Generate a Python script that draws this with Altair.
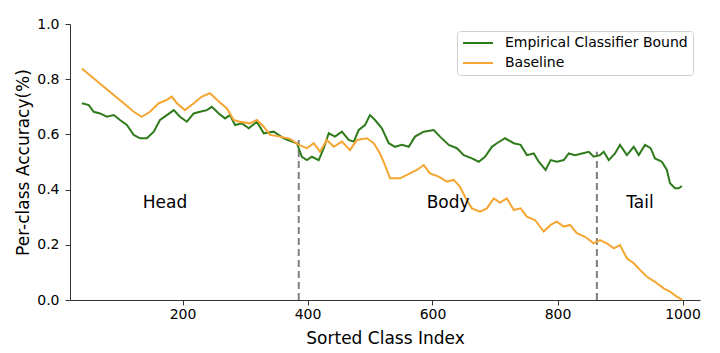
import altair as alt
import pandas as pd

# Empirical Classifier Bound (green)
green_x = [39, 50, 58, 68, 79, 90, 100, 111, 122, 132, 143, 154, 164, 175, 186, 196, 207, 218, 228, 239,
           247, 258, 268, 276, 284, 295, 306, 319, 330, 346, 362, 375, 383, 391, 399, 407, 418, 426, 434, 444,
           455, 466, 474, 482, 492, 500, 508, 519, 530, 540, 551, 562, 572, 586, 602, 612, 626, 639, 650, 663,
           674, 684, 695, 703, 716, 730, 741, 751, 762, 770, 781, 789, 799, 810, 818, 828, 839, 850, 858, 868,
           874, 882, 892, 900, 911, 922, 930, 940, 949, 956, 967, 975, 980, 988, 994, 999]
green_y = [0.713, 0.706, 0.682, 0.676, 0.664, 0.670, 0.652, 0.634, 0.598, 0.586, 0.586, 0.610, 0.652, 0.670,
           0.688, 0.664, 0.646, 0.676, 0.682, 0.688, 0.700, 0.676, 0.658, 0.670, 0.634, 0.640, 0.622, 0.646,
           0.604, 0.610, 0.586, 0.574, 0.568, 0.519, 0.507, 0.519, 0.507, 0.550, 0.604, 0.592, 0.610, 0.580,
           0.574, 0.616, 0.634, 0.670, 0.652, 0.622, 0.568, 0.555, 0.562, 0.555, 0.592, 0.610, 0.616, 0.592,
           0.562, 0.550, 0.525, 0.513, 0.501, 0.519, 0.555, 0.568, 0.586, 0.568, 0.562, 0.525, 0.531, 0.501,
           0.471, 0.507, 0.501, 0.507, 0.531, 0.525, 0.531, 0.537, 0.519, 0.525, 0.537, 0.507, 0.531, 0.562,
           0.525, 0.555, 0.525, 0.562, 0.550, 0.513, 0.501, 0.471, 0.423, 0.405, 0.405, 0.413]

# Baseline (orange)
orange_x = [39, 74, 90, 106, 122, 135, 148, 162, 175, 183, 191, 204, 218, 231, 244, 258, 271, 282, 292, 308,
            319, 330, 340, 356, 372, 386, 399, 410, 420, 431, 442, 455, 468, 479, 495, 506, 516, 524, 532, 548,
            564, 575, 586, 596, 610, 623, 634, 644, 652, 663, 676, 687, 698, 708, 719, 730, 741, 751, 764, 778,
            789, 799, 810, 820, 831, 844, 858, 868, 879, 890, 900, 911, 922, 932, 943, 956, 970, 980, 991, 1000]
orange_y = [0.839, 0.773, 0.743, 0.713, 0.682, 0.664, 0.682, 0.713, 0.725, 0.737, 0.713, 0.688, 0.713, 0.737,
            0.749, 0.719, 0.694, 0.652, 0.646, 0.640, 0.652, 0.628, 0.598, 0.592, 0.584, 0.562, 0.550, 0.568,
            0.537, 0.580, 0.555, 0.574, 0.543, 0.580, 0.586, 0.568, 0.531, 0.489, 0.441, 0.441, 0.459, 0.471,
            0.489, 0.459, 0.447, 0.429, 0.435, 0.410, 0.374, 0.332, 0.320, 0.332, 0.368, 0.353, 0.368, 0.326,
            0.332, 0.302, 0.290, 0.248, 0.272, 0.284, 0.266, 0.272, 0.242, 0.229, 0.205, 0.217, 0.205, 0.187,
            0.199, 0.151, 0.133, 0.109, 0.084, 0.066, 0.042, 0.030, 0.012, 0.000]

series_names = ["Empirical Classifier Bound", "Baseline"]
series_colors = ["#2e7b1c", "#f4a532"]

# split markers
split_x = [386, 863]
split_top = [0.58, 0.537]

# region labels
region_labels = ["Head", "Body", "Tail"]
region_x = [172, 625, 932]
region_y = [0.35, 0.35, 0.35]

df = pd.concat([
    pd.DataFrame({"x": green_x, "y": green_y, "series": series_names[0], "order": range(len(green_x))}),
    pd.DataFrame({"x": orange_x, "y": orange_y, "series": series_names[1], "order": range(len(orange_x))}),
])
splits = pd.DataFrame({"x": split_x, "y0": [0, 0], "y1": split_top})
regions = pd.DataFrame({"x": region_x, "y": region_y, "label": region_labels})

FONT = "DejaVu Sans"
xs = alt.Scale(domain=[20, 1028], nice=False, zero=False)
ys = alt.Scale(domain=[0, 1], nice=False)

lines = alt.Chart(df).mark_line(strokeWidth=2).encode(
    x=alt.X("x:Q", scale=xs, title="Sorted Class Index",
            axis=alt.Axis(values=[200, 400, 600, 800, 1000], format="d", labelPadding=2, titlePadding=9)),
    y=alt.Y("y:Q", scale=ys, title="Per-class Accuracy(%)",
            axis=alt.Axis(values=[0, 0.2, 0.4, 0.6, 0.8, 1.0], format=".1f", labelPadding=6, titlePadding=4)),
    color=alt.Color("series:N", scale=alt.Scale(domain=series_names, range=series_colors),
                    sort=series_names,
                    legend=alt.Legend(title=None, orient="none", legendX=387, legendY=7,
                                      symbolType="M-1,0H4", symbolSize=144, symbolStrokeWidth=2,
                                      symbolFillColor="transparent",
                                      labelFont=FONT, labelFontSize=14, labelColor="#000000",
                                      labelLimit=400, labelOffset=29, padding=5, rowPadding=6,
                                      strokeColor="#d0d0d0", fillColor="#ffffff", cornerRadius=3)),
    order="order:Q",
)

rules = alt.Chart(splits).mark_rule(color="#7f7f7f", strokeWidth=2, strokeDash=[7, 4]).encode(
    x=alt.X("x:Q", scale=xs), y=alt.Y("y0:Q", scale=ys), y2="y1:Q"
)

texts = alt.Chart(regions).mark_text(font=FONT, fontSize=17, color="#000000").encode(
    x=alt.X("x:Q", scale=xs), y=alt.Y("y:Q", scale=ys), text="label:N"
)

chart = alt.layer(rules, lines, texts).properties(
    width=630, height=276,
    autosize=alt.AutoSizeParams(type="none"),
    padding={"left": 70, "top": 24, "right": 20, "bottom": 53},
).configure_view(stroke=None).configure_axis(
    grid=False, domainColor="#333333", tickColor="#333333", tickSize=5,
    labelFont=FONT, labelFontSize=14, labelColor="#000000",
    titleFont=FONT, titleFontSize=17, titleFontWeight="normal", titleColor="#000000",
)

chart.save("out.html", embed_options={"renderer": "svg", "actions": False})
